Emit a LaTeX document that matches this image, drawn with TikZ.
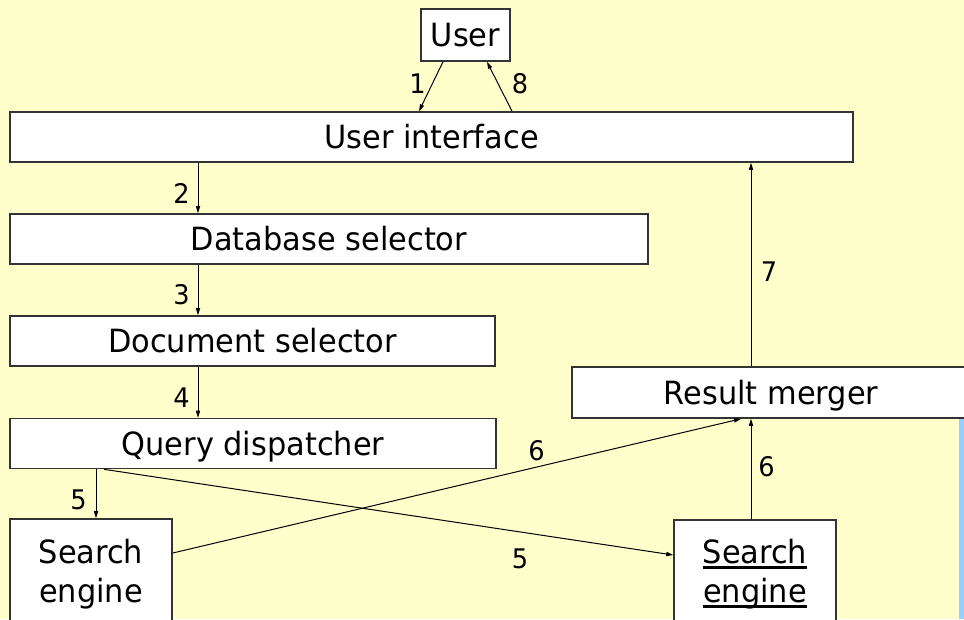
\documentclass[tikz,border=0pt]{standalone}
\usepackage{fontspec}
\setmainfont{DejaVu Sans}[FakeStretch=0.95]
\usetikzlibrary{arrows.meta}
\definecolor{bgyellow}{HTML}{FFFFCC}
\definecolor{barblue}{HTML}{99CCFF}
\definecolor{boxline}{HTML}{333333}
\newcommand\ulword[1]{\setbox0\hbox{#1}\rlap{\rule[-5.5pt]{\wd0}{2.8pt}}\box0}
\tikzset{
  box/.style={draw=boxline, line width=1.6pt, fill=white, inner sep=0pt,
    font=\fontsize{32}{38.5}\selectfont, text height=23.3pt, text depth=0pt},
  setext/.style={inner sep=0pt, align=center, font=\fontsize{32}{38.5}\selectfont},
  num/.style={inner sep=0pt, font=\fontsize{27}{30}\selectfont},
  arr/.style={draw=black, line width=1pt, -{Triangle[length=7pt,width=4.2pt]}}
}
\begin{document}
\begin{tikzpicture}[x=1pt,y=-1pt]
\useasboundingbox (0,0) rectangle (964,619);
\clip (0,0) rectangle (964,619);
\fill[bgyellow] (0,0) rectangle (964,619);
\fill[barblue] (959,418) rectangle (964,619);

\node[box, minimum width=89pt, minimum height=52pt] (user) at (465.5,35) {User};
\node[box, minimum width=843pt, minimum height=50pt] (ui) at (431.5,137) {User interface};
\node[box, minimum width=638pt, minimum height=50pt] (db) at (329,239) {Database selector};
\node[box, minimum width=485pt, minimum height=50pt] (doc) at (252.5,341) {Document selector};
\node[box, minimum width=486pt, minimum height=50pt] (qd) at (253,443.5) {Query dispatcher};
\node[box, minimum width=398pt, minimum height=51pt] (rm) at (771,392.5) {Result merger};
\node[box, minimum width=162pt, minimum height=108pt] (se1) at (91,573) {};
\node[box, minimum width=162pt, minimum height=108pt] (se2) at (755,574) {};
\node[setext, anchor=base] (se1t) at (91,602) {Search\\engine};
\node[setext, anchor=base] (se2t) at (755,602) {\ulword{Search}\\\ulword{engine}};

% arrows
\draw[arr] ([xshift=-22.5pt]user.south) -- ([xshift=-12.5pt]ui.north);
\draw[arr] ([xshift=80.5pt]ui.north) -- ([xshift=21.5pt]user.south);
\draw[arr] ([xshift=-233.5pt]ui.south) -- ([xshift=-233.5pt]ui.south |- db.north);
\draw[arr] ([xshift=-131pt]db.south) -- ([xshift=-131pt]db.south |- doc.north);
\draw[arr] ([xshift=-54.5pt]doc.south) -- ([xshift=-54.5pt]doc.south |- qd.north);
\draw[arr] ([xshift=-157pt]qd.south) -- ([xshift=-157pt]qd.south |- se1.north);
\draw[arr] ([xshift=-149pt]qd.south) -- ([yshift=19pt]se2.west);
\draw[arr] ([yshift=20pt]se1.east) -- ([xshift=-30pt]rm.south);
\draw[arr] ([xshift=-4pt]se2.north) -- ([xshift=-4pt]se2.north |- rm.south);
\draw[arr] ([xshift=-20pt]rm.north) -- ([xshift=-20pt]rm.north |- ui.south);

% labels
\node[num] (l1) at (417.5,83.5) {1};
\node[num] (l8) at (520,84) {8};
\node[num] (l2) at (181.5,193) {2};
\node[num] (l3) at (181.5,295) {3};
\node[num] (l4) at (181.5,398) {4};
\node[num] (l5a) at (78.5,499.5) {5};
\node[num] (l7) at (769,271.5) {7};
\node[num] (l6a) at (536.5,451) {6};
\node[num] (l6b) at (766.5,467) {6};
\node[num] (l5b) at (520,558.5) {5};
\end{tikzpicture}
\end{document}
